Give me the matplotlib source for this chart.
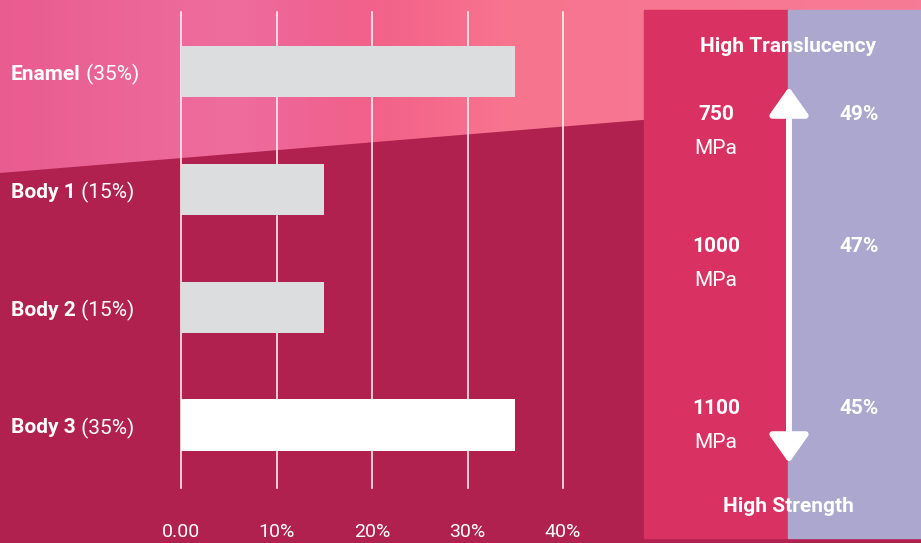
import numpy as np
import matplotlib.pyplot as plt
from matplotlib.colors import LinearSegmentedColormap
from matplotlib.patches import Polygon, Rectangle

# ── Data ─────────────────────────────────────────────────────────
layers = ["Enamel", "Body 1", "Body 2", "Body 3"]
shares = [35, 15, 15, 35]
xticks = [0, 10, 20, 30, 40]
xtick_labels = ["0.00", "10%", "20%", "30%", "40%"]

strength = ["750", "1000", "1100"]
translucency = ["49%", "47%", "45%"]

FONT = "Roboto"
CRIMSON = "#B0214F"
PANEL_RED = "#D93162"
PANEL_LAV = "#ABA7CE"
BAR_GREY = "#DBDDDE"

W, H = 921, 543
fig = plt.figure(figsize=(W / 100, H / 100), dpi=100)
fig.patch.set_facecolor(CRIMSON)

# ── Background (pixel coordinates) ───────────────────────────────
bg = fig.add_axes([0, 0, 1, 1])
bg.set_xlim(0, W)
bg.set_ylim(H, 0)
bg.axis("off")
bg.add_patch(Rectangle((0, 0), W, H, color=CRIMSON, zorder=0))

pink = LinearSegmentedColormap.from_list(
    "pink", [(0.0, "#E95C8F"), (0.25, "#EE6D9D"), (0.33, "#EF6494"),
             (0.4, "#F26189"), (0.55, "#F8748F"), (1.0, "#F77B96")])
grad = np.linspace(0, 1, 256).reshape(1, -1)
img = bg.imshow(grad, cmap=pink, extent=(0, W, H, 0), aspect="auto", zorder=1)
top_poly = Polygon([(0, 0), (W, 0), (W, 97), (0, 173)], closed=True,
                   transform=bg.transData, facecolor="none", edgecolor="none")
bg.add_patch(top_poly)
img.set_clip_path(top_poly)
bg.set_xlim(0, W)
bg.set_ylim(H, 0)

# ── Right panel ──────────────────────────────────────────────────
bg.add_patch(Rectangle((644, 10), 144, 528, color=PANEL_RED, zorder=2))
bg.add_patch(Rectangle((788, 10), 133, 528, color=PANEL_LAV, zorder=2))

bg.annotate("", xy=(789, 87), xytext=(789, 463), zorder=3,
            arrowprops=dict(arrowstyle="<|-|>,head_width=0.6,head_length=0.85",
                            mutation_scale=20, color="white", lw=4.3,
                            shrinkA=0, shrinkB=0))

bg.text(788, 46, "High Translucency", color="white", fontsize=15,
        fontweight="bold", family=FONT, ha="center", va="center", zorder=4)
bg.text(788, 506, "High Strength", color="white", fontsize=15,
        fontweight="bold", family=FONT, ha="center", va="center", zorder=4)

row_y = [114, 246, 408]
for y, s, t in zip(row_y, strength, translucency):
    bg.text(716, y, s, color="white", fontsize=15, fontweight="bold",
            family=FONT, ha="center", va="center", zorder=4)
    bg.text(716, y + 35, "MPa", color="white", fontsize=15, fontweight="normal",
            family=FONT, ha="center", va="center", zorder=4)
    bg.text(859, y, t, color="white", fontsize=15, fontweight="bold",
            family=FONT, ha="center", va="center", zorder=4)

# ── Bar chart ────────────────────────────────────────────────────
ax = fig.add_axes([181 / W, (H - 488) / H, (563 - 181) / W, (488 - 12) / H])
ax.patch.set_alpha(0)
y = np.arange(len(layers))
colors = [BAR_GREY, BAR_GREY, BAR_GREY, "white"]
ax.barh(y, shares, height=0.435, color=colors, zorder=3)

ax.set_xlim(0, 40)
ax.set_ylim(3.535, -0.505)
ax.set_xticks(xticks)
ax.set_xticklabels(xtick_labels, family=FONT, fontweight="normal",
                   fontsize=14, color="white")
ax.set_yticks([])
ax.tick_params(axis="x", length=0, pad=25)
ax.grid(axis="x", color="white", lw=1.2, alpha=0.9, zorder=1)
for gl in ax.get_xgridlines():
    gl.set_clip_on(False)
for s in ax.spines.values():
    s.set_visible(False)

# ── Category labels: bold name + lighter share ───────────────────
for yi, name, val in zip(y, layers, shares):
    yp = ax.transData.transform((0, yi))[1] - 3
    t1 = fig.text(11 / W, yp / H, name, color="white", fontsize=15,
                  fontweight="bold", family=FONT, ha="left", va="center")
    fig.canvas.draw()
    bb = t1.get_window_extent()
    fig.text(bb.x1 / W, yp / H, f" ({val}%)", color="white", fontsize=15,
             fontweight="normal", family=FONT, ha="left", va="center")

fig.savefig("out.png", dpi=100, facecolor=fig.get_facecolor())
